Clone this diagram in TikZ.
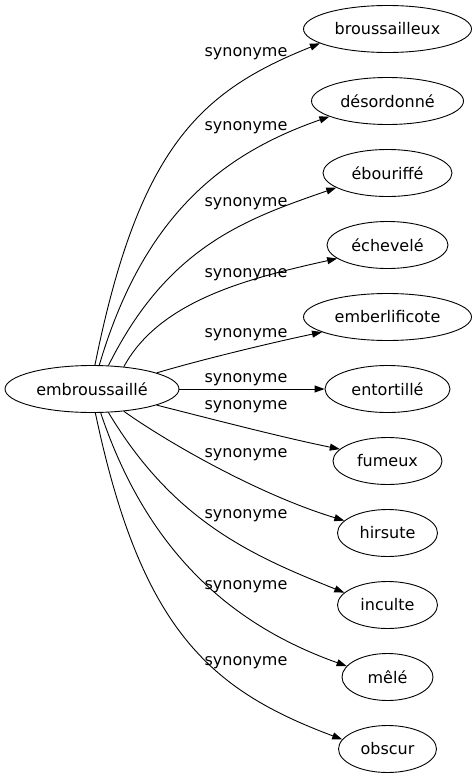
\documentclass[tikz,border=0pt]{standalone}
\usepackage{fontspec}
\setmainfont{DejaVu Sans}
\usetikzlibrary{shapes.geometric,arrows.meta}

\begin{document}
\begin{tikzpicture}[x=1pt, y=-1pt,
  word/.style={draw, ellipse, line width=0.9pt, inner sep=0pt, minimum height=47pt, font=\fontsize{16}{19}\selectfont},
  rel/.style={inner sep=0pt, font=\fontsize{16}{19}\selectfont},
  syn/.style={line width=0.9pt, -{Triangle[length=10pt, width=7pt]}}]
\useasboundingbox (0,0) rectangle (476,779);
% mot de depart
\node[word, minimum width=174pt] (M) at (92,389) {embroussaillé};

% synonymes
\node[word, minimum width=168pt] (S1) at (387.5,29) {broussailleux};
\node[word, minimum width=152pt] (S2) at (387.5,101) {désordonné};
\node[word, minimum width=129pt] (S3) at (387.5,173) {ébouriffé};
\node[word, minimum width=121pt] (S4) at (387.5,245) {échevelé};
\node[word, minimum width=168pt] (S5) at (387.5,317) {emberlificote};
\node[word, minimum width=125pt] (S6) at (387.5,389) {entortillé};
\node[word, minimum width=109pt] (S7) at (387.5,461) {fumeux};
\node[word, minimum width=100pt] (S8) at (387.5,533) {hirsute};
\node[word, minimum width=100pt] (S9) at (387.5,605) {inculte};
\node[word, minimum width=91pt] (S10) at (387.5,677) {mêlé};
\node[word, minimum width=98pt] (S11) at (387.5,749) {obscur};

% aretes
\draw[syn] (M.83) .. controls (139,146) and (201,91) .. (S1.192);
\draw[syn] (M.73) .. controls (145,210) and (228,152) .. (S2.195);
\draw[syn] (M.55) .. controls (168,246) and (246,219) .. (S3.196);
\draw[syn] (M.35) .. controls (160,300) and (250,278) .. (S4.195);
\draw[syn] (M.14) .. controls (200,360) and (270,343) .. (S5.193);
\draw[syn] (M.east) -- (S6.west);
\draw[syn] (M.-14) .. controls (200,416) and (280,437) .. (S7.166);
\draw[syn] (M.-35) .. controls (170,444) and (260,495) .. (S8.164);
\draw[syn] (M.-55) .. controls (174,522) and (253,556) .. (S9.164);
\draw[syn] (M.-70) .. controls (150,560) and (240,628) .. (S10.165);
\draw[syn] (M.-82) .. controls (141,630) and (210,690) .. (S11.168);

% etiquettes
\node[rel] (L1) at (246,54) {synonyme};
\node[rel] (L2) at (246,128) {synonyme};
\node[rel] (L3) at (246,204) {synonyme};
\node[rel] (L4) at (246,275) {synonyme};
\node[rel] (L5) at (246,335) {synonyme};
\node[rel] (L6) at (246,380) {synonyme};
\node[rel] (L7) at (246,407) {synonyme};
\node[rel] (L8) at (246,455) {synonyme};
\node[rel] (L9) at (246,516) {synonyme};
\node[rel] (L10) at (246,587) {synonyme};
\node[rel] (L11) at (246,663) {synonyme};

\end{tikzpicture}
\end{document}
